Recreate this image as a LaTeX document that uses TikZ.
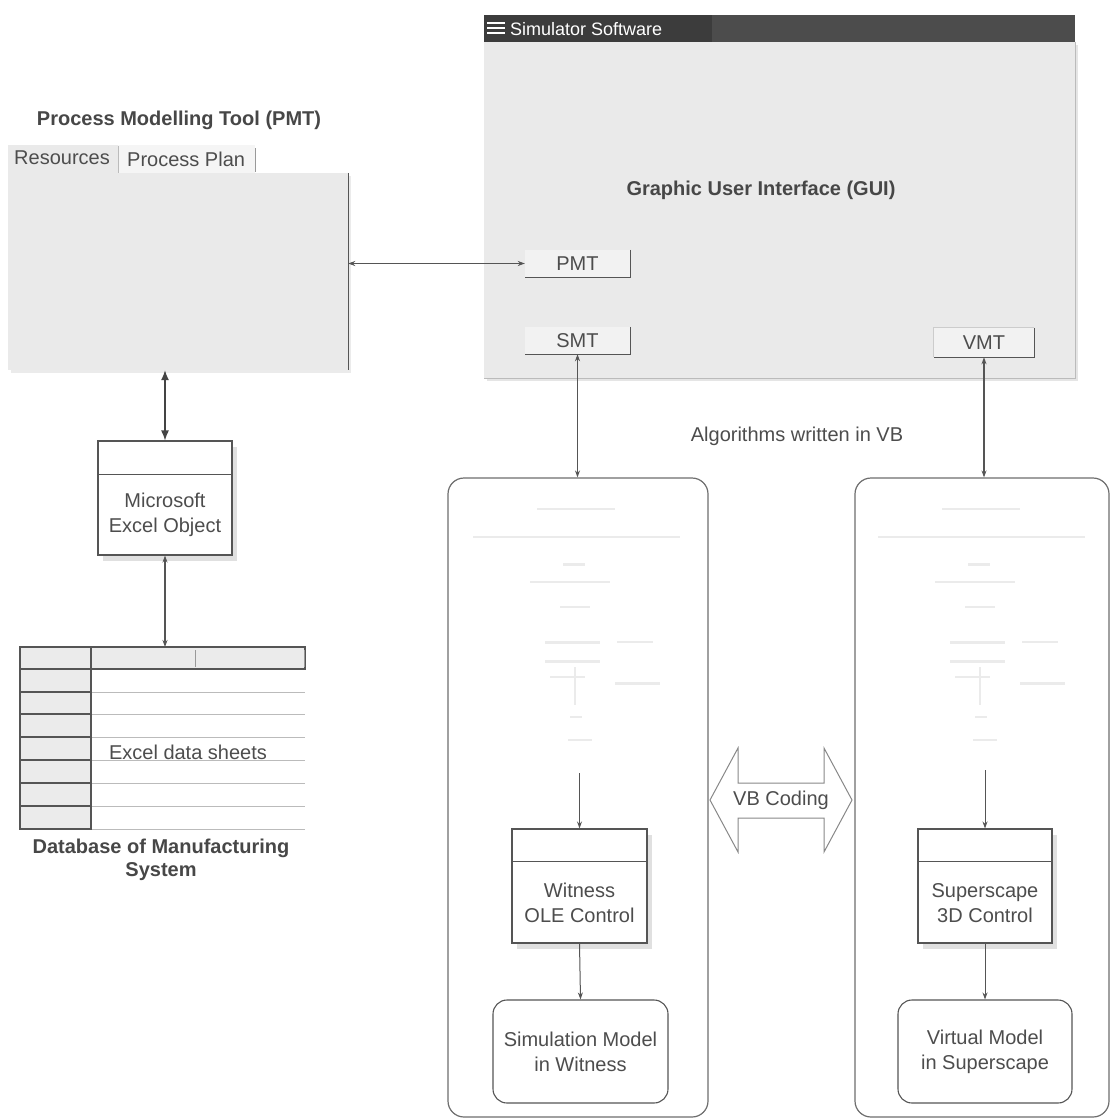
\documentclass[tikz,border=0pt]{standalone}
\usepackage{fontspec}
\setmainfont{Liberation Sans}
\usetikzlibrary{arrows.meta,shadows}
\definecolor{ln}{HTML}{555555}
\definecolor{txtc}{HTML}{4D4D4D}
\definecolor{ttlc}{HTML}{474747}
\definecolor{winbg}{HTML}{EAEAEA}
\definecolor{faintc}{HTML}{EBEBEB}
\definecolor{barc}{HTML}{4C4C4C}
\definecolor{barl}{HTML}{3C3C3C}
\tikzset{
  txt/.style={text=txtc, align=center, inner sep=0pt, font=\fontsize{20}{25}\selectfont},
  ttl/.style={txt, font=\fontsize{20}{23}\selectfont\bfseries, text=ttlc},
  boxst/.style={draw=ln, line width=1.1pt, fill=white, inner sep=0pt},
  shbox/.style={boxst, drop shadow={shadow xshift=5pt, shadow yshift=-6pt, opacity=0.12, fill=black}},
  panelst/.style={draw=ln!85, line width=1.2pt, rounded corners=16pt, inner sep=0pt},
  btnst/.style={fill=white!95!black, inner sep=0pt, text=txtc, font=\fontsize{20}{23}\selectfont},
  btnedge/.style={draw=ln, line width=1.1pt},
  arr/.style={draw=ln, line width=1.1pt, {Stealth[length=7pt,width=5pt]}-{Stealth[length=7pt,width=5pt]}},
  onearr/.style={draw=ln, line width=1pt, -{Stealth[length=7pt,width=5pt]}},
  bigarr/.style={draw=ln!80!black, line width=1.3pt, {Latex[length=10pt,width=8pt]}-{Latex[length=10pt,width=8pt]}},
  faint/.style={draw=faintc, line width=3pt},
}
\begin{document}
\begin{tikzpicture}[x=1pt,y=-1pt]
\useasboundingbox (0,0) rectangle (1111,1119);
\fill[white] (0,0) rectangle (1111,1119);

% ---------------- PMT tool ----------------
\node[ttl] (pmttitle) at (179,120) {Process Modelling Tool (PMT)};
\fill[winbg] (8,145) rectangle (118,173);
\fill[white!96!black] (118,145) rectangle (255,173);
\draw[ln!40, line width=0.8pt] (118,146) -- (118,173);
\draw[ln!60, line width=0.8pt] (255,148) -- (255,172);
\node[txt, anchor=west] (restab) at (14,158) {Resources};
\node[txt, anchor=west] (plantab) at (127,159) {Process Plan};
\node[fill=winbg, inner sep=0pt, minimum width=340pt, minimum height=197pt,
      drop shadow={shadow xshift=3pt, shadow yshift=-3pt, opacity=0.08, fill=black}] (pmtbox) at (178,271.5) {};
\draw[ln, line width=1.1pt] (pmtbox.north east) -- (pmtbox.south east);

% ---------------- Excel object ----------------
\node[shbox, minimum width=134pt, minimum height=114pt] (excel) at (165,498) {};
\draw[ln, line width=1.1pt] ([yshift=-34pt]excel.north west) -- ([yshift=-34pt]excel.north east);
\node[txt] (exceltxt) at (165,515) {Microsoft\\Excel Object};

% ---------------- Data sheets ----------------
\coordinate (tabtop) at (165,647);
\fill[white!92!black] (20,647) rectangle (305,669);
\foreach \ya/\yb in {669/692,692/714,714/737,737/760,760/783,783/806,806/829}{
  \draw[ln!40, line width=0.8pt] (91,\yb) -- (305,\yb);
  \draw[ln, line width=1.1pt, fill=white!92!black] (20,\ya) rectangle (91,\yb);
}
\draw[ln, line width=1.1pt] (20,647) rectangle (305,669);
\draw[ln, line width=1.1pt] (91,647) -- (91,669);
\draw[ln!60, line width=1pt] (195,650) -- (195,667);
\draw[ln!60, line width=1pt] (304,650) -- (304,667);
\node[txt] (sheetstxt) at (188,752) {Excel data sheets};
\node[ttl, align=center, font=\fontsize{20}{23}\selectfont\bfseries] (dbtxt) at (161,860) {Database of Manufacturing\\System};

% ---------------- GUI window ----------------
\node[fill=winbg, inner sep=0pt, minimum width=591pt, minimum height=336pt,
      drop shadow={shadow xshift=3pt, shadow yshift=-3pt, opacity=0.1, fill=black}] (gui) at (779.5,210) {};
\draw[ln!40, line width=1pt] (gui.north east) -- (gui.south east) -- (gui.south west);
\node[fill=barc, inner sep=0pt, minimum width=591pt, minimum height=27pt] (tbar) at (779.5,28.5) {};
\node[fill=barl, inner sep=0pt, minimum width=228pt, minimum height=27pt] (tbarl) at (598,28.5) {};
\foreach \yy in {23,28,33}{\draw[white, line width=2pt] (487,\yy) -- (505,\yy);}
\node[anchor=west, text=white, inner sep=0pt, font=\fontsize{18}{20}\selectfont] (tbtxt) at (510,29) {Simulator Software};
\node[ttl] (guitxt) at (761,190) {Graphic User Interface (GUI)};

\node[btnst, minimum width=105pt, minimum height=27pt] (pmtb) at (577.5,263.5) {PMT};
\draw[btnedge] (pmtb.north east) -- (pmtb.south east) -- (pmtb.south west);
\node[btnst, minimum width=105pt, minimum height=27pt] (smtb) at (577.5,340.5) {SMT};
\draw[btnedge] (smtb.north east) -- (smtb.south east) -- (smtb.south west);
\node[btnst, minimum width=100pt, minimum height=29pt] (vmtb) at (984,342.5) {VMT};
\draw[ln!30, line width=0.8pt] (vmtb.south west) -- (vmtb.north west) -- (vmtb.north east);
\draw[btnedge] (vmtb.north east) -- (vmtb.south east) -- (vmtb.south west);

\node[txt] (algtxt) at (797,436) {Algorithms written in VB};

% ---------------- Panels ----------------
\node[panelst, minimum width=260pt, minimum height=639pt] (lpanel) at (578,797.5) {};
\node[panelst, minimum width=254pt, minimum height=639pt] (rpanel) at (982,797.5) {};

% faint flowchart content
\foreach \dx in {0,405}{
\begin{scope}[xshift=\dx pt]
  \draw[faint, line width=2pt] (537,509) -- (615,509);
  \draw[faint, line width=2pt] (473,537) -- (680,537);
  \draw[faint] (563,564) -- (585,564);
  \draw[faint, line width=2pt] (530,582) -- (610,582);
  \draw[faint, line width=2pt] (560,607) -- (590,607);
  \draw[faint] (545,642) -- (600,642);
  \draw[faint, line width=2pt] (617,642) -- (653,642);
  \draw[faint] (545,661) -- (600,661);
  \draw[faint, line width=2pt] (550,677) -- (585,677);
  \draw[faint] (615,683) -- (660,683);
  \draw[faint, line width=1.5pt] (575,667) -- (575,705);
  \draw[faint, line width=2pt] (570,717) -- (582,717);
  \draw[faint, line width=2pt] (568,740) -- (592,740);
\end{scope}}

\node[shbox, minimum width=135pt, minimum height=114pt] (witness) at (579.5,886) {};
\draw[ln, line width=1.1pt] ([yshift=-33pt]witness.north west) -- ([yshift=-33pt]witness.north east);
\node[txt] (witnesstxt) at (579.5,903) {Witness\\OLE Control};

\node[shbox, minimum width=134pt, minimum height=114pt] (super) at (985,886) {};
\draw[ln, line width=1.1pt] ([yshift=-33pt]super.north west) -- ([yshift=-33pt]super.north east);
\node[txt] (supertxt) at (985,903) {Superscape\\3D Control};

\node[boxst, rounded corners=14pt, minimum width=175pt, minimum height=103pt, txt, draw=ln, line width=1.1pt] (simm) at (580.5,1051.5) {Simulation Model\\in Witness};
\node[boxst, rounded corners=14pt, minimum width=174pt, minimum height=103pt, txt, draw=ln, line width=1.1pt] (virt) at (985,1051.5) {Virtual Model\\in Superscape};

\coordinate (lin) at (579.5,773);
\coordinate (rin) at (985,770);

% VB coding arrow
\draw[ln!70, line width=1pt, fill=white] (710,800) -- (738,748) -- (738,783) -- (824,783) -- (824,748) -- (852,800) -- (824,852) -- (824,818) -- (738,818) -- (738,852) -- cycle;
\node[txt] (vbtxt) at (781,800) {VB Coding};

% ---------------- Connectors ----------------
\draw[arr] (pmtbox.east |- pmtb.west) -- (pmtb.west);
\draw[bigarr] (excel.north |- pmtbox.south) -- (excel.north);
\draw[arr] (excel.south) -- (tabtop);
\draw[arr] (smtb.south) -- (smtb.south |- lpanel.north);
\draw[arr] (vmtb.south) -- (vmtb.south |- rpanel.north);
\draw[onearr] (lin) -- (witness.north);
\draw[onearr] (witness.south) -- (simm.north);
\draw[onearr] (rin) -- (super.north);
\draw[onearr] (super.south) -- (virt.north);
\end{tikzpicture}
\end{document}
